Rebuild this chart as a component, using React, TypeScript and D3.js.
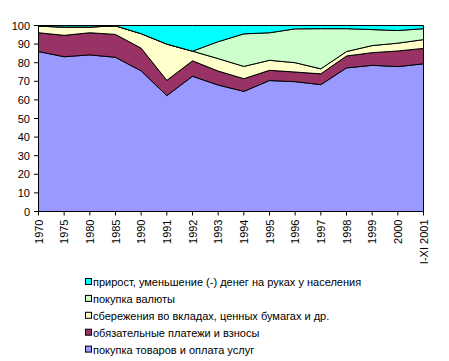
import React, { useRef, useEffect } from 'react';
import * as d3 from 'd3';

const CATEGORIES = ['1970', '1975', '1980', '1985', '1990', '1991', '1992', '1993', '1994', '1995', '1996', '1997', '1998', '1999', '2000', 'I-XI 2001'];

const GOODS = [86, 83.2, 84.2, 82.9, 75.6, 62.3, 72.7, 68, 64.6, 70.4, 69.8, 68.2, 77.2, 78.6, 77.9, 79.4];
const PAYMENTS = [10.1, 11.5, 11.9, 12.3, 12.2, 8.2, 8.3, 7.5, 6.8, 5.5, 5.2, 5.8, 6.4, 6.8, 8.4, 8.3];
const SAVINGS = [3.5, 4.5, 3.1, 4.6, 7.8, 19.5, 5.2, 6.7, 6.6, 5.4, 5, 2.7, 2.4, 3.8, 4.2, 4.7];
const CURRENCY = [0, 0, 0, 0, 0, 0, 0, 9.1, 17.5, 14.8, 18.2, 21.6, 12.3, 8.6, 6.8, 5.9];
const CASH = [0.4, 0.8, 0.8, 0.2, 4.4, 10, 13.8, 8.7, 4.5, 3.9, 1.8, 1.7, 1.7, 2.2, 2.7, 1.7];

const SERIES_KEYS = ['goods', 'payments', 'savings', 'currency', 'cash'];
const SERIES_LABELS = [
  'покупка товаров и оплата услуг',
  'обязательные платежи и взносы',
  'сбережения во вкладах, ценных бумагах и др.',
  'покупка валюты',
  'прирост, уменьшение (-) денег на руках у населения',
];
const SERIES_COLORS = ['#9999ff', '#993366', '#ffffcc', '#ccffcc', '#00ffff'];
const Y_TICKS = [0, 10, 20, 30, 40, 50, 60, 70, 80, 90, 100];

const W = 449;
const H = 361;

export default function App() {
  const svgRef = useRef<SVGSVGElement>(null);

  useEffect(() => {
    if (!svgRef.current) return;
    const svg = d3.select(svgRef.current);
    svg.selectAll('*').remove();

    const font = 'Arial, "Liberation Sans", sans-serif';

    const rows = CATEGORIES.map((c, i) => ({
      goods: GOODS[i],
      payments: PAYMENTS[i],
      savings: SAVINGS[i],
      currency: CURRENCY[i],
      cash: CASH[i],
    }));
    const stacked = d3.stack<any>().keys(SERIES_KEYS)(rows);

    const x = d3.scaleLinear().domain([0, CATEGORIES.length - 1]).range([38.5, 423.5]);
    const y = d3.scaleLinear().domain([0, 100]).range([211.5, 25.5]);

    const area = d3.area<any>()
      .x((_d, i) => x(i))
      .y0((d) => y(d[0]))
      .y1((d) => y(Math.min(100, d[1])));

    // areas, bottom first
    stacked.forEach((s, i) => {
      svg.append('path')
        .datum(s)
        .attr('d', area as any)
        .attr('fill', SERIES_COLORS[i])
        .attr('stroke', '#000')
        .attr('stroke-width', 1)
        .attr('stroke-linejoin', 'miter');
    });

    // y axis
    svg.append('line')
      .attr('x1', 38.5).attr('x2', 38.5)
      .attr('y1', y(0)).attr('y2', y(100))
      .attr('stroke', '#000');
    Y_TICKS.forEach((t) => {
      svg.append('line')
        .attr('x1', 34).attr('x2', 38.5)
        .attr('y1', y(t)).attr('y2', y(t))
        .attr('stroke', '#000');
      svg.append('text')
        .attr('x', 30)
        .attr('y', y(t))
        .attr('text-anchor', 'end')
        .attr('dominant-baseline', 'central')
        .attr('font-family', font)
        .attr('font-size', '11px')
        .attr('fill', '#000')
        .text(t);
    });

    // x axis
    svg.append('line')
      .attr('x1', x(0)).attr('x2', x(CATEGORIES.length - 1))
      .attr('y1', y(0)).attr('y2', y(0))
      .attr('stroke', '#000');
    CATEGORIES.forEach((c, i) => {
      svg.append('line')
        .attr('x1', x(i)).attr('x2', x(i))
        .attr('y1', y(0)).attr('y2', y(0) + 4)
        .attr('stroke', '#000');
      svg.append('text')
        .attr('transform', `translate(${x(i)},${y(0) + 8}) rotate(-90)`)
        .attr('text-anchor', 'end')
        .attr('dominant-baseline', 'central')
        .attr('font-family', font)
        .attr('font-size', '11px')
        .attr('fill', '#000')
        .text(c);
    });

    // legend, top series first
    const legend = svg.append('g').attr('transform', 'translate(85,282)');
    d3.range(SERIES_KEYS.length).reverse().forEach((si, row) => {
      const ly = row * 16.9;
      legend.append('rect')
        .attr('x', 0.5).attr('y', ly - 3.5)
        .attr('width', 6).attr('height', 6)
        .attr('fill', SERIES_COLORS[si])
        .attr('stroke', '#000');
      legend.append('text')
        .attr('x', 8)
        .attr('y', ly)
        .attr('dominant-baseline', 'central')
        .attr('font-family', font)
        .attr('font-size', '11px')
        .attr('fill', '#000')
        .text(SERIES_LABELS[si]);
    });
  }, []);

  return (
    <svg
      ref={svgRef}
      width={W}
      height={H}
      style={{ position: 'absolute', left: 0, top: 0, background: '#fff' }}
    />
  );
}
